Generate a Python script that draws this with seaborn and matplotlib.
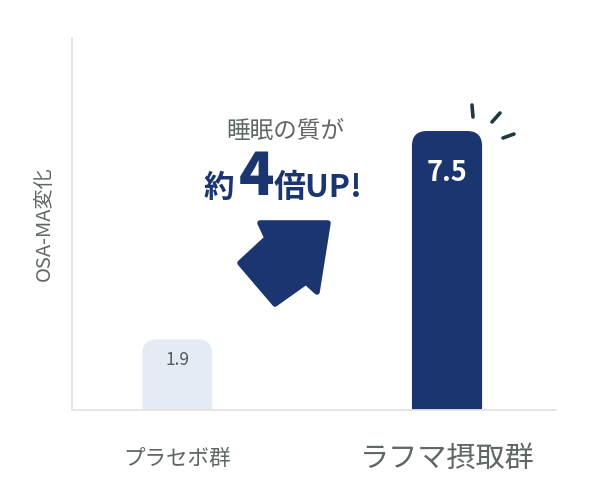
import matplotlib
matplotlib.use("Agg")
import matplotlib.pyplot as plt
import seaborn as sns
from matplotlib.patches import FancyBboxPatch, Polygon

# data
groups = ["プラセボ群", "ラフマ摂取群"]
values = [1.9, 7.5]
bar_colors = ["#e4ebf3", "#1b3570"]
y_label = "OSA-MA変化"

NAVY = "#1b3570"
GRAY = "#5f6766"
SPINE = "#e3e3e3"

sns.set_theme(style="white")
plt.rcParams["font.family"] = ["Noto Sans CJK JP", "DejaVu Sans"]

W, H, DPI = 606, 492, 100
fig = plt.figure(figsize=(W / DPI, H / DPI), dpi=DPI)
ax = fig.add_axes([72 / W, 1 - 410 / H, (556 - 72) / W, (410 - 38) / H])

sns.barplot(x=groups, y=values, hue=groups, palette=bar_colors,
            legend=False, width=0.26, saturation=1, ax=ax)
ax.set_xlim(-0.39, 1.404)
ax.set_ylim(0, 10)

# swap the plain bars for ones with rounded tops
ax_w_px = (556 - 72)
ax_h_px = (410 - 38)
x_per_px = (ax.get_xlim()[1] - ax.get_xlim()[0]) / ax_w_px
y_per_px = (ax.get_ylim()[1] - ax.get_ylim()[0]) / ax_h_px
r_px = 15
for p in list(ax.patches):
    x0, w, h, fc = p.get_x(), p.get_width(), p.get_height(), p.get_facecolor()
    p.remove()
    extra = 1.0
    rb = FancyBboxPatch((x0, -extra), w, h + extra,
                        boxstyle=f"round,pad=0,rounding_size={r_px * x_per_px}",
                        mutation_aspect=y_per_px / x_per_px,
                        facecolor=fc, edgecolor="none", zorder=2)
    ax.add_patch(rb)

# value labels inside the bars
ax.annotate(f"{values[0]}", (0, values[0]), xytext=(0, -15), textcoords="offset points",
            ha="center", va="center", fontsize=12.5, color="#555b5b")
ax.annotate(f"{values[1]}", (1, values[1]), xytext=(0, -30), textcoords="offset points",
            ha="center", va="center", fontsize=19.5, fontweight="bold", color="white")

# axes styling
for s in ["top", "right"]:
    ax.spines[s].set_visible(False)
for s in ["left", "bottom"]:
    ax.spines[s].set_color(SPINE)
    ax.spines[s].set_linewidth(1.3)
ax.tick_params(left=False, labelleft=False, bottom=False, pad=29)
ax.set_xticks([0, 1])
ax.set_xticklabels(groups, color=GRAY)
tl = ax.get_xticklabels()
tl[0].set_fontsize(15.5)
tl[1].set_fontsize(21)
for t in tl:
    t.set_va("center")
ax.set_xlabel("")
ax.set_ylabel(y_label, fontsize=14.5, color=GRAY, labelpad=12)

# overlay in pixel coordinates for the callout
ov = fig.add_axes([0, 0, 1, 1], zorder=5)
ov.set_xlim(0, W)
ov.set_ylim(H, 0)
ov.axis("off")
ov.patch.set_alpha(0)

ov.text(285, 132, "睡眠の質が", ha="center", va="center", fontsize=17, color=GRAY)
ov.text(219, 197, "約", ha="center", va="baseline", fontsize=22, fontweight="bold", color=NAVY)
ov.text(256, 195, "4", ha="center", va="baseline", fontsize=42, fontweight="black", color=NAVY)
ov.text(274, 197, "倍UP!", ha="left", va="baseline", fontsize=23, fontweight="bold", color=NAVY)

arrow = [(328, 223), (260, 223), (267, 238), (240, 263), (275, 304),
         (306, 282), (317, 292)]
ov.add_patch(Polygon(arrow, closed=True, facecolor=NAVY, edgecolor=NAVY,
                     linewidth=4, joinstyle="round"))

for (x1, y1), (x2, y2) in [((472, 105), (473, 117)), ((500, 113), (492, 122)),
                           ((503, 138), (514, 134))]:
    ov.plot([x1, x2], [y1, y2], color="#1d3a3d", linewidth=2.6, solid_capstyle="round")

fig.savefig("out.png", dpi=DPI)
